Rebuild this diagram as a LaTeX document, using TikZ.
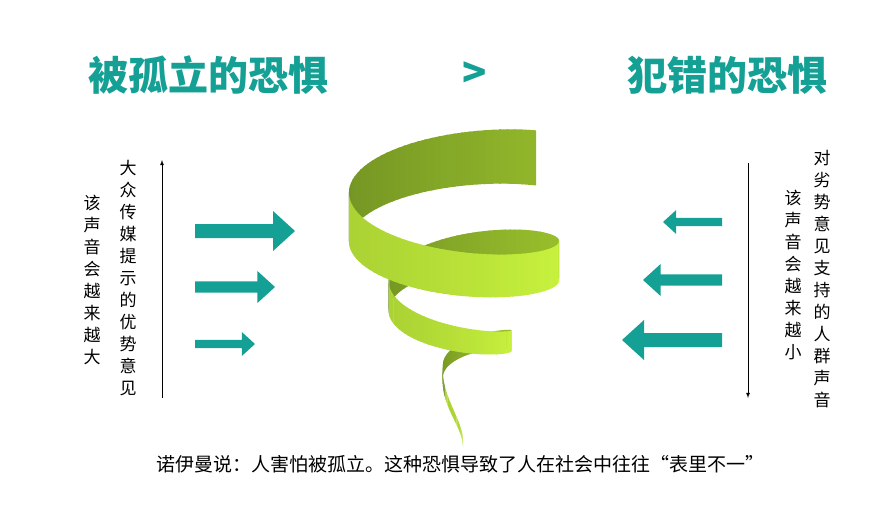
\documentclass[tikz,border=0pt]{standalone}
\usepackage{fontspec}
\newfontfamily\cjk{Noto Sans CJK SC}
\definecolor{teal1}{HTML}{14A094}
\definecolor{gl}{HTML}{C8F23E}
\definecolor{gm}{HTML}{98BE2C}
\definecolor{gd}{HTML}{5E7C1E}
\begin{document}
\begin{tikzpicture}[x=1pt,y=-1pt,
  title/.style={text=teal1,font=\cjk\bfseries\fontsize{40}{44}\selectfont,inner sep=0},
  col/.style={font=\cjk\fontsize{17}{22}\selectfont,align=center,inner sep=0,anchor=north},
  fat/.style={fill=teal1,draw=none}]
\useasboundingbox (0,0) rectangle (896,506);
\node[title] (t1) at (208,75) {被孤立的恐惧};
\node[title] (t2) at (475,75) {>};
\node[title] (t3) at (727,75) {犯错的恐惧};
% left columns
\node[col] (lc1) at (128,160) {大\\众\\传\\媒\\提\\示\\的\\优\\势\\意\\见};
\node[col] (lc2) at (92,195) {该\\声\\音\\会\\越\\来\\越\\大};
\coordinate (la1) at (162,398); \coordinate (la2) at (162,160);
\draw[-latex,thick] (la1) -- (la2);
% right columns
\node[col] (rc1) at (822,150) {对\\劣\\势\\意\\见\\支\\持\\的\\人\\群\\声\\音};
\node[col] (rc2) at (793,190) {该\\声\\音\\会\\越\\来\\越\\小};
\coordinate (ra1) at (748,163); \coordinate (ra2) at (748,398);
\draw[-latex,thick] (ra1) -- (ra2);
% fat arrows
\newcommand\rarr[4]{%
 \fill[teal1] (#1,#2-#4*0.35) -- (#3-#4*1.1,#2-#4*0.35) -- (#3-#4*1.1,#2-#4) -- (#3,#2) -- (#3-#4*1.1,#2+#4) -- (#3-#4*1.1,#2+#4*0.35) -- (#1,#2+#4*0.35) -- cycle;}
\rarr{195}{231}{295}{20}
\rarr{195}{287}{275}{16}
\rarr{195}{344}{255}{12}
\newcommand\larr[4]{%
 \fill[teal1] (#1,#2-#4*0.35) -- (#3+#4*1.1,#2-#4*0.35) -- (#3+#4*1.1,#2-#4) -- (#3,#2) -- (#3+#4*1.1,#2+#4) -- (#3+#4*1.1,#2+#4*0.35) -- (#1,#2+#4*0.35) -- cycle;}
\larr{722}{222}{663}{12}
\larr{722}{280}{643}{16}
\larr{722}{340}{622}{20}
% spiral
\foreach \pass in {0,1}{
 \foreach \i in {0,...,259}{
  \pgfmathsetmacro\ua{0.3+\i*0.02}
  \pgfmathsetmacro\ub{\ua+0.025}
  \pgfmathsetmacro\s{sin(\ua*180+0.02*90)}
  \pgfmathsetmacro\c{cos(\ua*180)}
  \pgfmathsetmacro\ra{max(128-12*\ua-2*\ua*\ua,3)}
  \pgfmathsetmacro\rb{max(128-12*\ub-2*\ub*\ub,3)}
  \pgfmathsetmacro\xa{463+\ra*cos(\ua*180)}
  \pgfmathsetmacro\xb{463+\rb*cos(\ub*180)}
  \pgfmathsetmacro\ya{150+45*\ua+60*max(0,\ua-4.8)-\ra*0.33*sin(\ua*180)}
  \pgfmathsetmacro\yb{150+45*\ub+60*max(0,\ub-4.8)-\rb*0.33*sin(\ub*180)}
  \pgfmathsetmacro\wa{max(58-9.5*\ua,2.5)}
  \pgfmathsetmacro\wb{max(58-9.5*\ub,2.5)}
  \pgfmathsetmacro\p{int(70+30*\c)}
  \ifnum\pass=0
    \ifdim\s pt>0pt
      \colorlet{cc}{gm!\p!gd}
      \fill[cc] (\xa,\ya) -- (\xb,\yb) -- (\xb,\yb+\wb) -- (\xa,\ya+\wa) -- cycle;
    \fi
  \else
    \ifdim\s pt>0pt\else
      \colorlet{cc}{gl!\p!gm}
      \fill[cc] (\xa,\ya) -- (\xb,\yb) -- (\xb,\yb+\wb) -- (\xa,\ya+\wa) -- cycle;
    \fi
  \fi
 }}
\node[font=\cjk\fontsize{19}{22}\selectfont,inner sep=0] (cap) at (460,464) {诺伊曼说：人害怕被孤立。这种恐惧导致了人在社会中往往“表里不一”};
\end{tikzpicture}
\end{document}
